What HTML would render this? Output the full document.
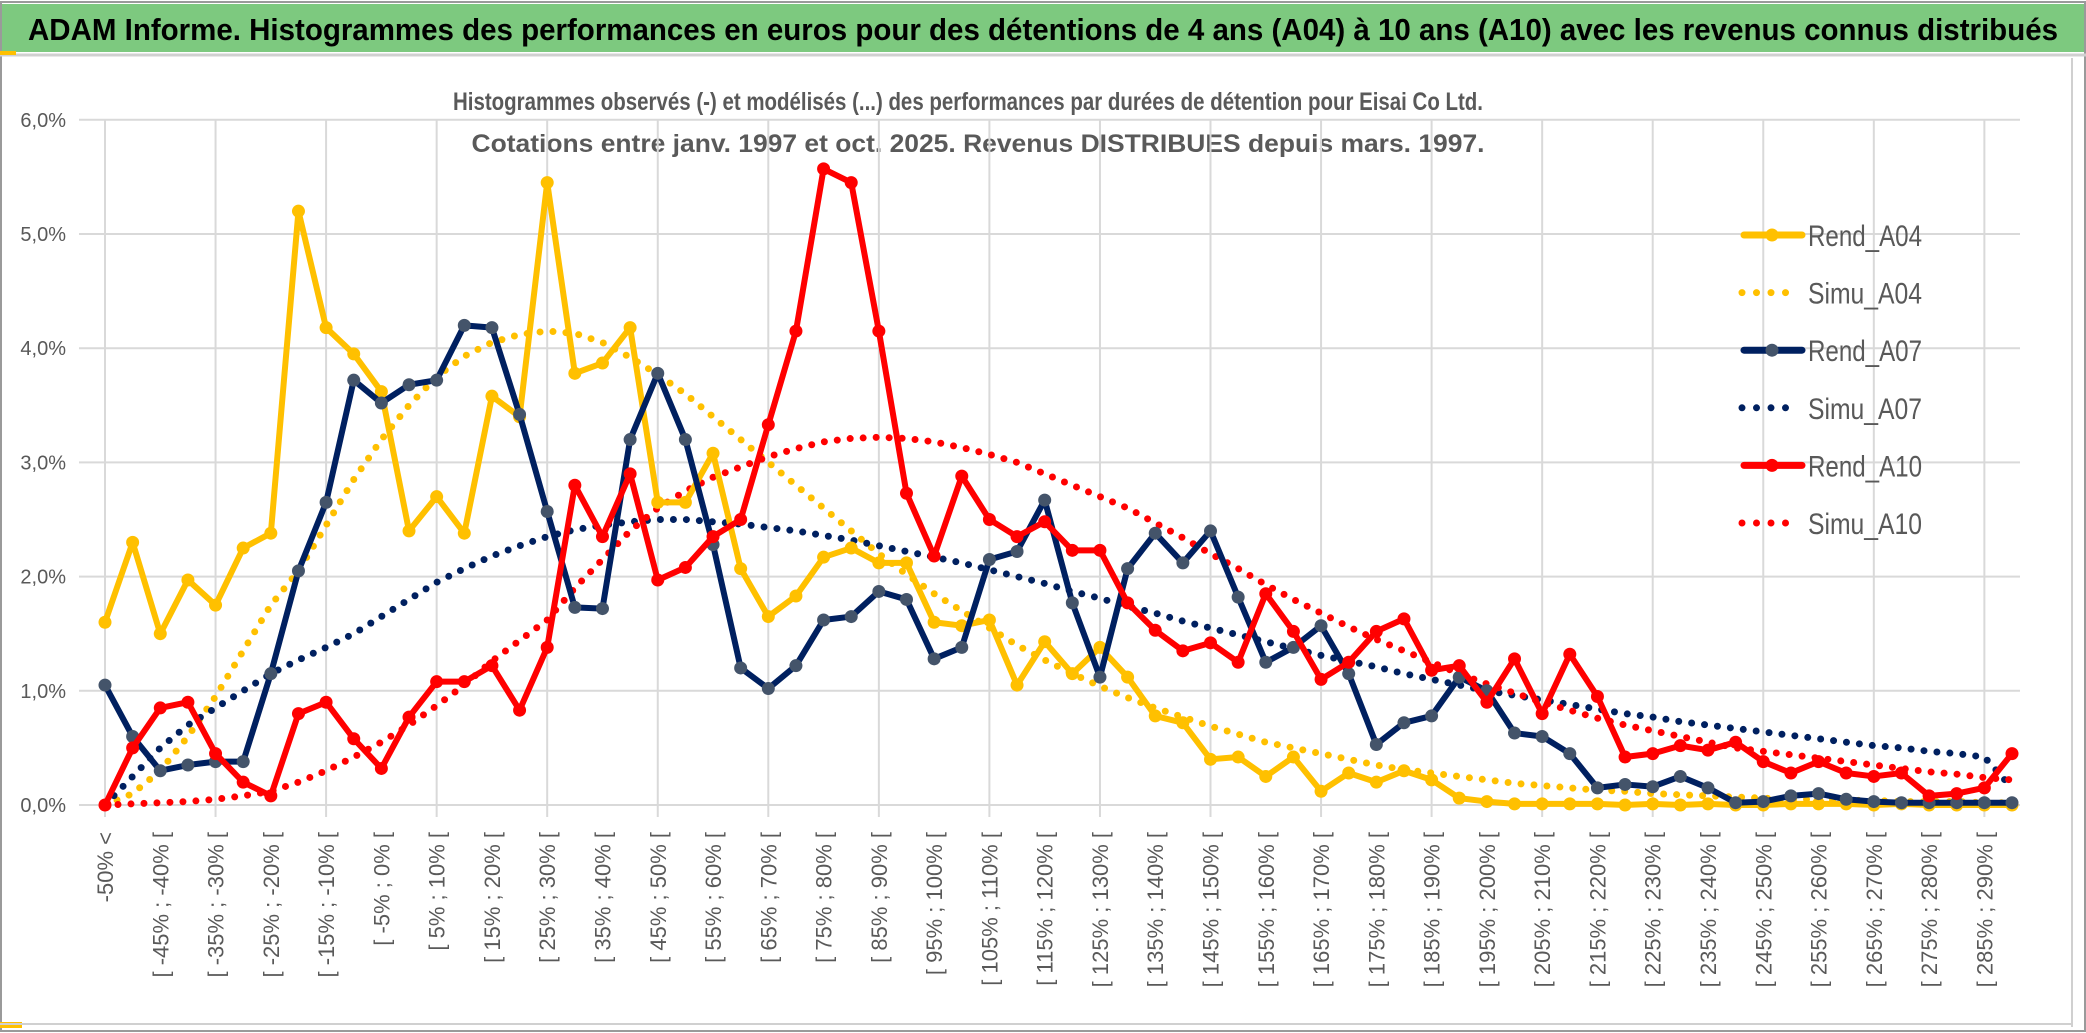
<!DOCTYPE html>
<html><head><meta charset="utf-8"><style>
html,body{margin:0;padding:0;background:#fff;}
svg{display:block;font-family:"Liberation Sans",sans-serif;}
</style></head><body>
<svg id="chart" width="2086" height="1033" viewBox="0 0 2086 1033" xmlns="http://www.w3.org/2000/svg">
<rect x="0" y="0" width="2086" height="1033" fill="#fff"/>
<rect x="1" y="2" width="2084" height="1029" fill="none" stroke="#9a9a9a" stroke-width="2"/>
<rect x="2" y="4" width="2082" height="48" fill="#7dc97f"/>
<line x1="0" y1="55" x2="2086" y2="55" stroke="#d0d0d0" stroke-width="3"/>
<rect x="0" y="51" width="16" height="4" fill="#ffc000"/>
<rect x="0" y="1022" width="22" height="6" fill="#ffc000"/>
<line x1="2072" y1="58" x2="2072" y2="1027" stroke="#d0d0d0" stroke-width="2"/>
<line x1="0" y1="1024" x2="2072" y2="1024" stroke="#d0d0d0" stroke-width="2"/>
<text x="1043" y="40" text-anchor="middle" font-size="31" font-weight="bold" fill="#000" textLength="2030" lengthAdjust="spacingAndGlyphs">ADAM Informe. Histogrammes des performances en euros pour des détentions de 4 ans (A04) à 10 ans (A10) avec les revenus connus distribués</text>
<text x="968" y="110" text-anchor="middle" font-size="25" font-weight="bold" fill="#595959" textLength="1030" lengthAdjust="spacingAndGlyphs">Histogrammes observés (-) et modélisés (...) des performances par durées de détention pour Eisai Co Ltd.</text>
<text x="978" y="152" text-anchor="middle" font-size="25" font-weight="bold" fill="#595959" textLength="1013" lengthAdjust="spacingAndGlyphs">Cotations entre janv. 1997 et oct. 2025. Revenus DISTRIBUES depuis mars. 1997.</text>
<g id="grid"></g>
<g id="yaxis"></g>
<g id="xaxis"></g>
<g id="series"></g>
<g id="legend"></g>
</svg>
<script>
const categories = ["-50% <"];
for (let a = -50; a < 295; a += 5) categories.push("[ " + a + "% ; " + (a + 5) + "% [");
const yTicks = [0,1,2,3,4,5,6];
const yTickLabels = ["0,0%","1,0%","2,0%","3,0%","4,0%","5,0%","6,0%"];
const rendA04 = [1.6,2.3,1.5,1.97,1.75,2.25,2.38,5.2,4.18,3.95,3.62,2.4,2.7,2.38,3.58,3.4,5.45,3.78,3.87,4.18,2.65,2.65,3.08,2.07,1.65,1.83,2.17,2.25,2.12,2.12,1.6,1.57,1.62,1.05,1.43,1.15,1.38,1.12,0.78,0.72,0.4,0.42,0.25,0.42,0.12,0.28,0.2,0.3,0.22,0.06,0.03,0.01,0.01,0.01,0.01,0,0.01,0,0.01,0,0,0.01,0.01,0.01,0,0.01,0,0,0,0];
const simuA04 = [0,0.1,0.3,0.6,0.95,1.35,1.75,2.05,2.45,2.85,3.2,3.5,3.75,3.93,4.05,4.12,4.15,4.13,4.05,3.92,3.77,3.6,3.4,3.2,3.0,2.8,2.6,2.4,2.2,2.02,1.85,1.7,1.55,1.4,1.27,1.15,1.04,0.94,0.85,0.77,0.69,0.62,0.55,0.5,0.45,0.4,0.35,0.31,0.28,0.25,0.22,0.19,0.17,0.15,0.13,0.12,0.1,0.09,0.08,0.07,0.06,0.05,0.05,0.04,0.04,0.03,0.03,0.03,0.02,0.02];
const rendA07 = [1.05,0.6,0.3,0.35,0.38,0.38,1.15,2.05,2.65,3.72,3.52,3.68,3.72,4.2,4.18,3.42,2.57,1.73,1.72,3.2,3.78,3.2,2.28,1.2,1.02,1.22,1.62,1.65,1.87,1.8,1.28,1.38,2.15,2.22,2.67,1.77,1.12,2.07,2.38,2.12,2.4,1.82,1.25,1.38,1.57,1.15,0.53,0.72,0.78,1.12,1.0,0.63,0.6,0.45,0.15,0.18,0.16,0.25,0.15,0.02,0.03,0.08,0.1,0.05,0.03,0.02,0.02,0.02,0.02,0.02];
const simuA07 = [0,0.25,0.5,0.7,0.85,1.0,1.15,1.27,1.38,1.5,1.65,1.8,1.95,2.07,2.18,2.27,2.35,2.41,2.45,2.48,2.5,2.5,2.48,2.46,2.43,2.4,2.36,2.32,2.27,2.22,2.17,2.12,2.06,2.0,1.94,1.87,1.81,1.74,1.68,1.61,1.55,1.49,1.43,1.37,1.31,1.26,1.21,1.15,1.1,1.05,1.0,0.96,0.92,0.88,0.84,0.8,0.77,0.73,0.7,0.67,0.64,0.61,0.58,0.55,0.52,0.5,0.47,0.45,0.42,0.15];
const rendA10 = [0,0.5,0.85,0.9,0.45,0.2,0.08,0.8,0.9,0.58,0.32,0.77,1.08,1.08,1.22,0.83,1.38,2.8,2.35,2.9,1.97,2.08,2.35,2.5,3.33,4.15,5.57,5.45,4.15,2.73,2.18,2.88,2.5,2.35,2.48,2.23,2.23,1.77,1.53,1.35,1.42,1.25,1.85,1.52,1.1,1.25,1.52,1.63,1.18,1.22,0.9,1.28,0.8,1.32,0.95,0.42,0.45,0.52,0.48,0.55,0.38,0.28,0.38,0.28,0.25,0.28,0.08,0.1,0.15,0.45];
const simuA10 = [0,0.01,0.02,0.03,0.05,0.08,0.12,0.2,0.3,0.42,0.55,0.7,0.87,1.05,1.26,1.44,1.62,1.9,2.15,2.4,2.6,2.75,2.87,2.96,3.05,3.12,3.18,3.21,3.22,3.21,3.18,3.13,3.07,3.0,2.9,2.8,2.7,2.6,2.47,2.34,2.2,2.07,1.93,1.8,1.68,1.56,1.45,1.35,1.25,1.15,1.06,0.98,0.9,0.83,0.76,0.7,0.65,0.6,0.55,0.5,0.47,0.44,0.41,0.38,0.35,0.32,0.29,0.27,0.24,0.22];

const NS = "http://www.w3.org/2000/svg";
const X0 = 105, XSTEP = (2012 - 105) / (categories.length - 1), Y0 = 805, YUNIT = 114.2;
function xPos(i){ return X0 + i * XSTEP; }
function yPos(v){ return Y0 - v * YUNIT; }
function mk(tag, parent, attrs){ const e = document.createElementNS(NS, tag); for (const k in attrs) e.setAttribute(k, attrs[k]); parent.appendChild(e); return e; }

const grid = document.getElementById('grid');
yTicks.forEach((t, k) => {
  const l = mk('line', grid, {x1:79, x2:2020, y1:yPos(t), y2:yPos(t), stroke:'#d9d9d9', 'stroke-width':2});
  
  
});
for (let i = 0; i < categories.length; i += 4) {
  const l = mk('line', grid, {x1:xPos(i), x2:xPos(i), y1:yPos(6), y2:Y0 + 12, stroke:'#d9d9d9', 'stroke-width':2});
  
  
}
const ya = document.getElementById('yaxis');
yTicks.forEach((t, k) => {
  const tx = mk('text', ya, {x:66, y:yPos(t) + 7, 'text-anchor':'end', 'font-size':20, fill:'#595959'});
  tx.textContent = yTickLabels[k];
  
  
});
const xa = document.getElementById('xaxis');
categories.forEach((c, i) => {
  if (i % 2) return;
  const x = xPos(i) + 8, y = 832;
  const tx = mk('text', xa, {x:x, y:y, transform:'rotate(-90 ' + x + ' ' + y + ')', 'text-anchor':'end', 'font-size':22, fill:'#595959'});
  tx.textContent = c;
  
  
});

const ser = document.getElementById('series');
function dotted(data, color, name){
  const pts = data.map((v, i) => xPos(i) + ',' + yPos(v)).join(' ');
  const p = mk('polyline', ser, {points:pts, fill:'none', stroke:color, 'stroke-width':7, 'stroke-linecap':'round', 'stroke-dasharray':'0 13'});
  
  
}
function solid(data, color, mcolor, name){
  const g = mk('g', ser, {});
  
  
  const pts = data.map((v, i) => xPos(i) + ',' + yPos(v)).join(' ');
  mk('polyline', g, {points:pts, fill:'none', stroke:color, 'stroke-width':6, 'stroke-linejoin':'round'});
  data.forEach((v, i) => {
    const c = mk('circle', g, {cx:xPos(i), cy:yPos(v), r:6.5, fill:mcolor});
    
    
  });
}
dotted(simuA04, '#ffc000', 'simu-a04-line');
dotted(simuA07, '#002060', 'simu-a07-line');
dotted(simuA10, '#ff0000', 'simu-a10-line');
solid(rendA04, '#ffc000', '#ffc000', 'rend-a04-line');
solid(rendA07, '#002060', '#44546a', 'rend-a07-line');
solid(rendA10, '#ff0000', '#ff0000', 'rend-a10-line');

const leg = document.getElementById('legend');
const legendItems = [["Rend_A04","#ffc000","#ffc000",0],["Simu_A04","#ffc000",null,1],["Rend_A07","#002060","#44546a",0],["Simu_A07","#002060",null,1],["Rend_A10","#ff0000","#ff0000",0],["Simu_A10","#ff0000",null,1]];
legendItems.forEach((it, k) => {
  const y = 235 + k * 57.6;
  const g = mk('g', leg, {});
  
  
  if (it[3]) {
    mk('line', g, {x1:1742, x2:1800, y1:y, y2:y, stroke:it[1], 'stroke-width':7, 'stroke-linecap':'round', 'stroke-dasharray':'0 14.5'});
  } else {
    mk('line', g, {x1:1744, x2:1802, y1:y, y2:y, stroke:it[1], 'stroke-width':7, 'stroke-linecap':'round'});
    mk('circle', g, {cx:1772, cy:y, r:6.5, fill:it[2]});
  }
  const t = mk('text', g, {x:1808, y:y + 11, 'font-size':30, fill:'#595959', textLength:114, lengthAdjust:'spacingAndGlyphs'});
  t.textContent = it[0];
});
</script>
</body></html>
